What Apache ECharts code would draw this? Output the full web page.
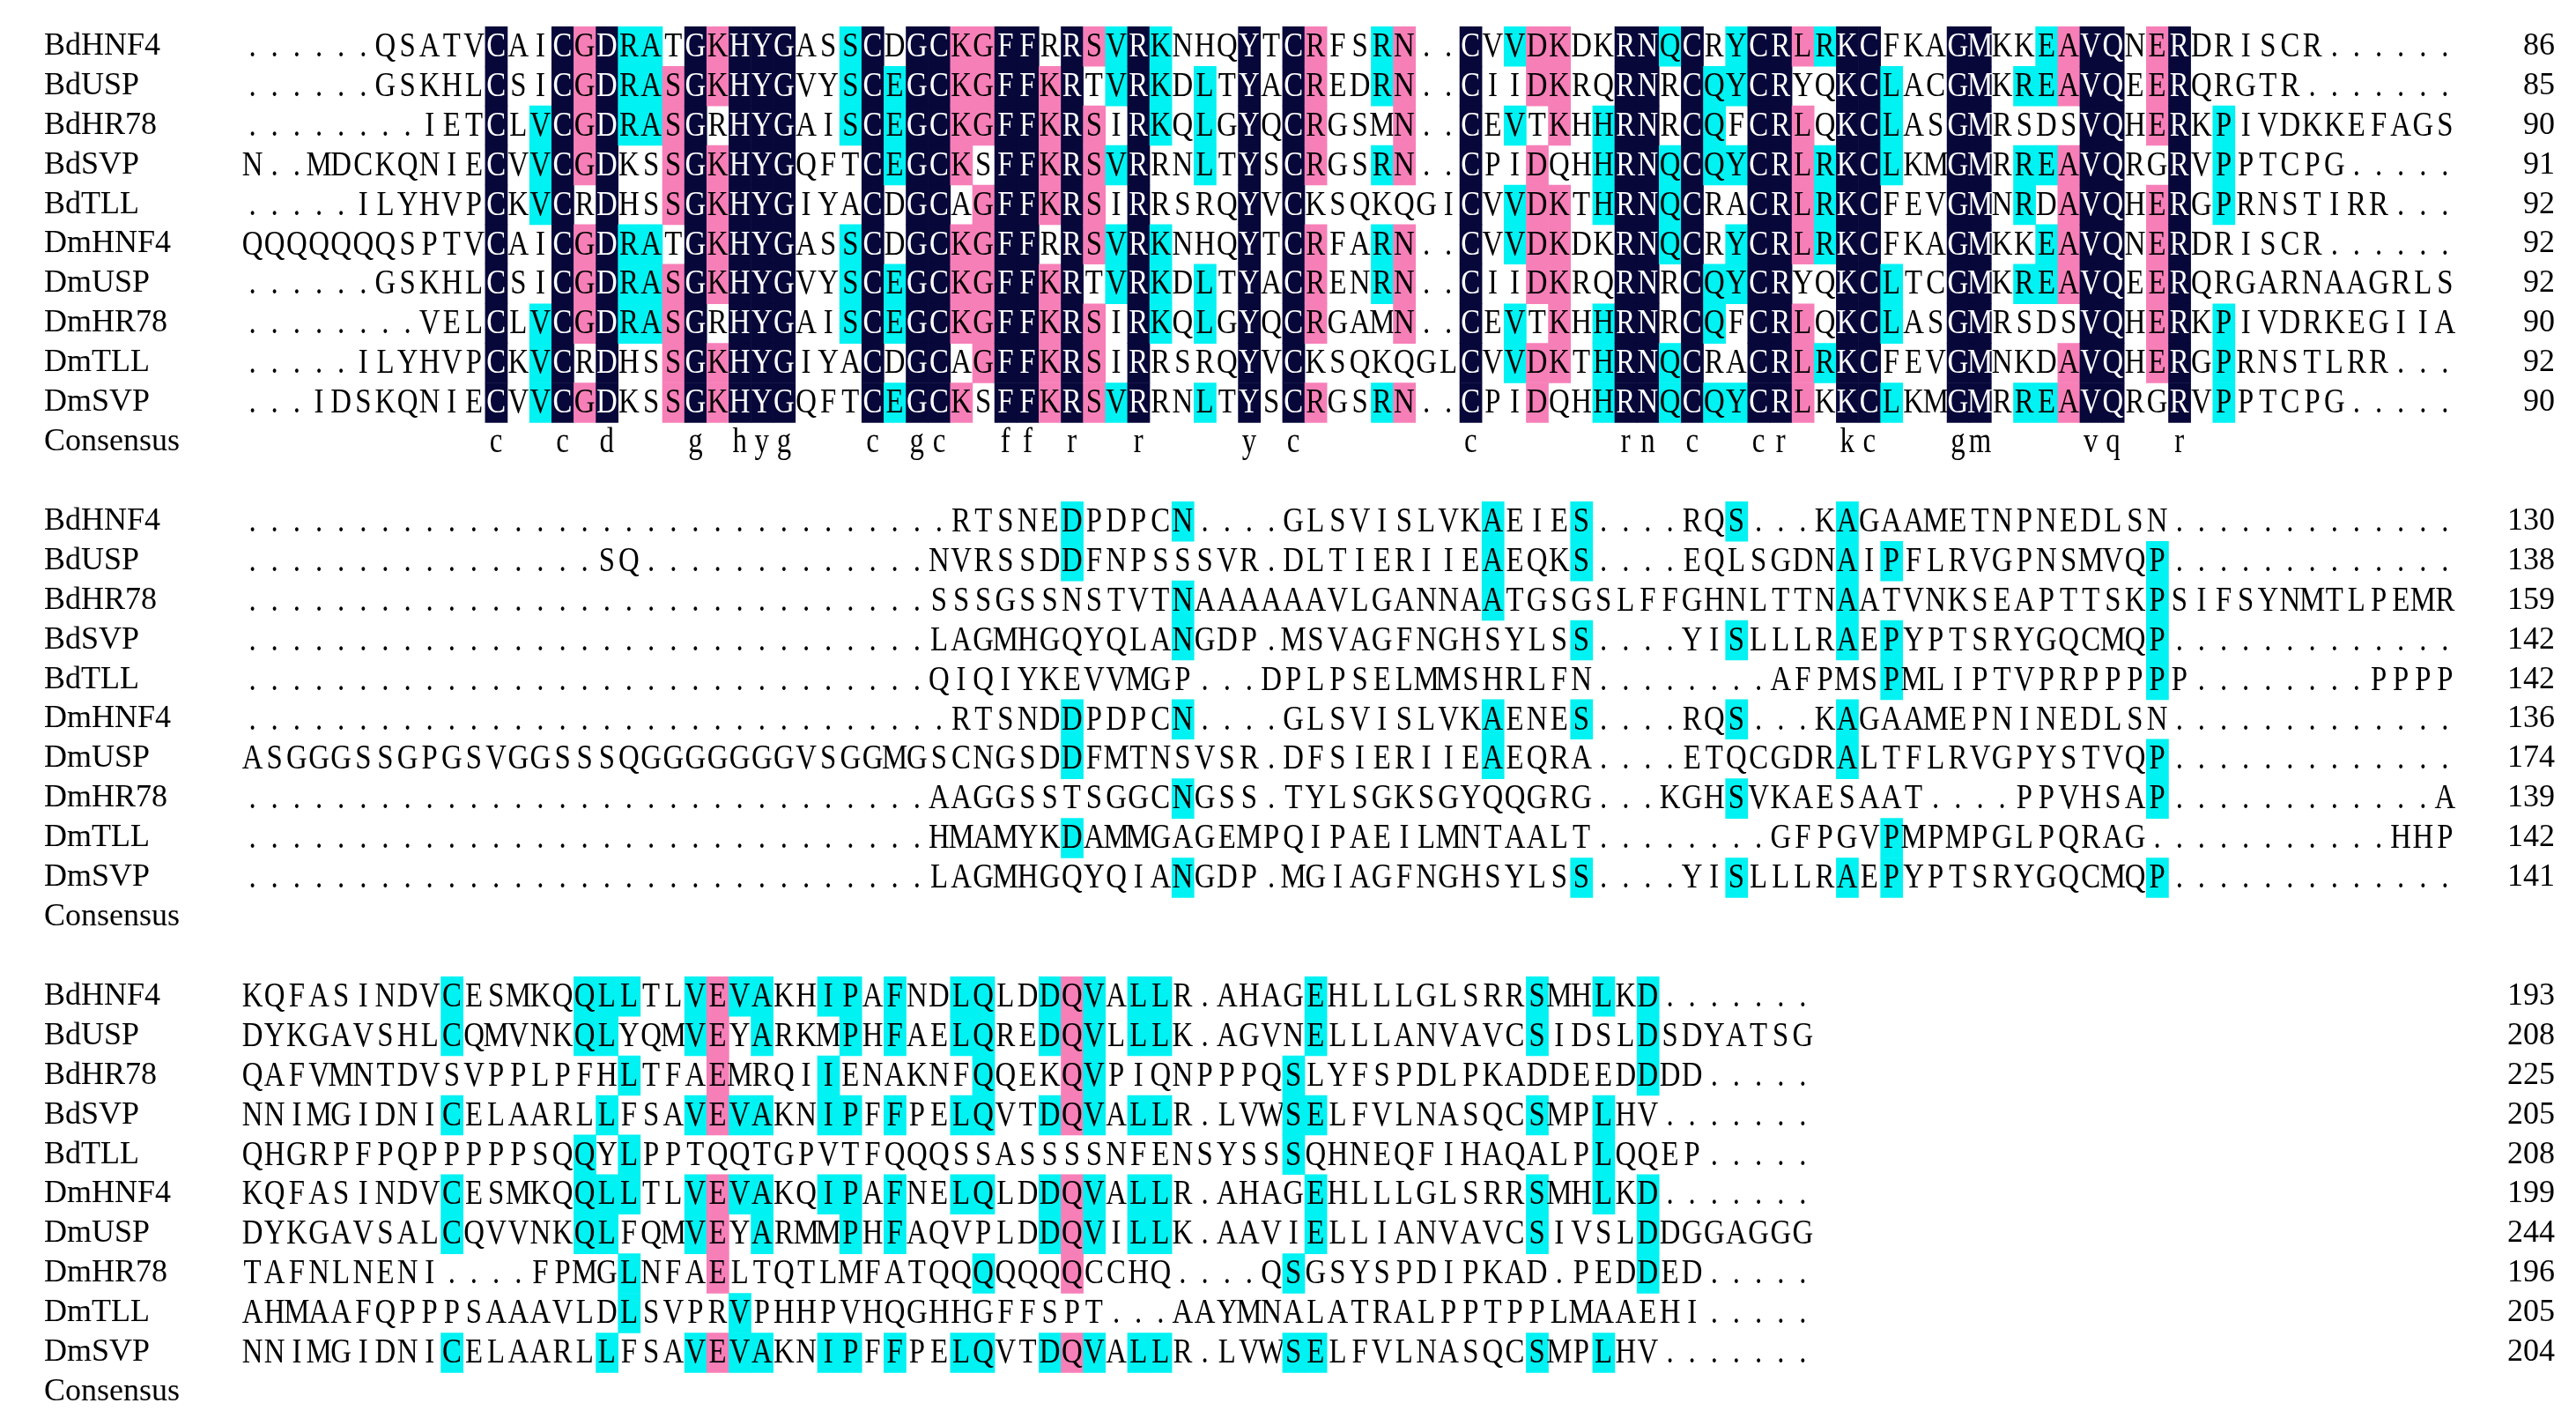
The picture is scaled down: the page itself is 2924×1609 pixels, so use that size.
<!DOCTYPE html>
<html><head><meta charset="utf-8">
<script src="https://cdn.jsdelivr.net/npm/echarts@6/dist/echarts.min.js"></script>
<style>html,body{margin:0;padding:0;background:#fff}#c{width:2924px;height:1609px}</style>
</head><body><div id="c"></div>
<script>
const names = ["BdHNF4","BdUSP","BdHR78","BdSVP","BdTLL","DmHNF4","DmUSP","DmHR78","DmTLL","DmSVP"];
const D = n => ".".repeat(n);
const block1 = [
"......QSATVCAICGDRATGKHYGASSCDGCKGFFRRSVRKNHQYTCRFSRN..CVVDKDKRNQCRYCRLRKCFKAGMKKEAVQNERDRISCR......",
"......GSKHLCSICGDRASGKHYGVYSCEGCKGFFKRTVRKDLTYACREDRN..CIIDKRQRNRCQYCRYQKCLACGMKREAVQEERQRGTR.......",
"........IETCLVCGDRASGRHYGAISCEGCKGFFKRSIRKQLGYQCRGSMN..CEVTKHHRNRCQFCRLQKCLASGMRSDSVQHERKPIVDKKEFAGS",
"N..MDCKQNIECVVCGDKSSGKHYGQFTCEGCKSFFKRSVRRNLTYSCRGSRN..CPIDQHHRNQCQYCRLRKCLKMGMRREAVQRGRVPPTCPG.....",
".....ILYHVPCKVCRDHSSGKHYGIYACDGCAGFFKRSIRRSRQYVCKSQKQGICVVDKTHRNQCRACRLRKCFEVGMNRDAVQHERGPRNSTIRR...",
"QQQQQQQSPTVCAICGDRATGKHYGASSCDGCKGFFRRSVRKNHQYTCRFARN..CVVDKDKRNQCRYCRLRKCFKAGMKKEAVQNERDRISCR......",
"......GSKHLCSICGDRASGKHYGVYSCEGCKGFFKRTVRKDLTYACRENRN..CIIDKRQRNRCQYCRYQKCLTCGMKREAVQEERQRGARNAAGRLS",
"........VELCLVCGDRASGRHYGAISCEGCKGFFKRSIRKQLGYQCRGAMN..CEVTKHHRNRCQFCRLQKCLASGMRSDSVQHERKPIVDRKEGIIA",
".....ILYHVPCKVCRDHSSGKHYGIYACDGCAGFFKRSIRRSRQYVCKSQKQGLCVVDKTHRNQCRACRLRKCFEVGMNKDAVQHERGPRNSTLRR...",
"...IDSKQNIECVVCGDKSSGKHYGQFTCEGCKSFFKRSVRRNLTYSCRGSRN..CPIDQHHRNQCQYCRLKKCLKMGMRREAVQRGRVPPTCPG....."
];
const block2 = [
D(32)+"RTSNEDPDPCN....GLSVISLVKAEIES....RQS...KAGAAMETNPNEDLSN",
D(16)+"SQ"+D(13)+"NVRSSDDFNPSSSVR.DLTIERIIEAEQKS....EQLSGDNAIPFLRVGPNSMVQP",
D(31)+"SSSGSSNSTVTNAAAAAAVLGANNAATGSGSLFFGHNLTTNAATVNKSEAPTTSKPSIFSYNMTLPEMR",
D(31)+"LAGMHGQYQLANGDP.MSVAGFNGHSYLSS....YISLLLRAEPYPTSRYGQCMQP",
D(31)+"QIQIYKEVVMGP...DPLPSELMMSHRLFN........AFPMSPMLIPTVPRPPPPP........PPPP",
D(32)+"RTSNDDPDPCN....GLSVISLVKAENES....RQS...KAGAAMEPNINEDLSN",
"ASGGGSSGPGSVGGSSSQGGGGGGGVSGGMGSCNGSDDFMTNSVSR.DFSIERIIEAEQRA....ETQCGDRALTFLRVGPYSTVQP",
D(31)+"AAGGSSTSGGCNGSS.TYLSGKSGYQQGRG...KGHSVKAESAAT....PPVHSAP............A",
D(31)+"HMAMYKDAMMGAGEMPQIPAEILMNTAALT........GFPGVPMPMPGLPQRAG...........HHP",
D(31)+"LAGMHGQYQIANGDP.MGIAGFNGHSYLSS....YISLLLRAEPYPTSRYGQCMQP"
];
const block3 = [
"KQFASINDVCESMKQQLLTLVEVAKHIPAFNDLQLDDQVALLR.AHAGEHLLLGLSRRSMHLKD",
"DYKGAVSHLCQMVNKQLYQMVEYARKMPHFAELQREDQVLLLK.AGVNELLLANVAVCSIDSLDSDYATSG",
"QAFVMNTDVSVPPLPFHLTFAEMRQIIENAKNFQQEKQVPIQNPPPQSLYFSPDLPKADDEEDDDD",
"NNIMGIDNICELAARLLFSAVEVAKNIPFFPELQVTDQVALLR.LVWSELFVLNASQCSMPLHV",
"QHGRPFPQPPPPPSQQYLPPTQQTGPVTFQQQSSASSSSNFENSYSSSQHNEQFIHAQALPLQQEP",
"KQFASINDVCESMKQQLLTLVEVAKQIPAFNELQLDDQVALLR.AHAGEHLLLGLSRRSMHLKD",
"DYKGAVSALCQVVNKQLFQMVEYARMMPHFAQVPLDDQVILLK.AAVIELLIANVAVCSIVSLDDGGAGGG",
"TAFNLNENI....FPMGLNFAELTQTLMFATQQQQQQQCCHQ....QSGSYSPDIPKAD.PEDDED",
"AHMAAFQPPPSAAAVLDLSVPRVPHHPVHQGHHGFFSPT...AAYMNALATRALPPTPPLMAAEHI",
"NNIMGIDNICELAARLLFSAVEVAKNIPFFPELQVTDQVALLR.LVWSELFVLNASQCSMPLHV"
];
const ends1 = [86,85,90,91,92,92,92,90,92,90];
const ends2 = [130,138,159,142,142,136,174,139,142,141];
const ends3 = [193,208,225,205,208,199,244,196,205,204];
const blockWidths = [100,100,71];

const blocks = [block1, block2, block3];
const ends = [ends1, ends2, ends3];
const NCOL = 100, NROW = 35;
const leftLabels = new Array(NROW).fill(""), rightLabels = new Array(NROW).fill("");
const cells = [];
const COLORS = {navy:"#07073a", pink:"#f77fb8", cyan:"#00f2f2"};
blocks.forEach((blk, b) => {
  const w = blockWidths[b];
  const seqs = blk.map(s => (s + ".".repeat(w)).slice(0, w));
  const base = b * 12;
  seqs.forEach((s, r) => { leftLabels[base + r] = names[r]; rightLabels[base + r] = String(ends[b][r]); });
  leftLabels[base + 10] = "Consensus";
  for (let c = 0; c < w; c++) {
    const cnt = {};
    seqs.forEach(s => { const ch = s[c]; if (ch !== ".") cnt[ch] = (cnt[ch] || 0) + 1; });
    let best = null, bn = 0;
    for (const k in cnt) if (cnt[k] > bn) { bn = cnt[k]; best = k; }
    let level = null;
    if (bn === 10) level = "navy"; else if (bn >= 8) level = "pink"; else if (bn >= 5) level = "cyan";
    seqs.forEach((s, r) => {
      const ch = s[c];
      cells.push({value:[c, base + r], ch: ch, bg: (level && ch === best) ? level : null});
    });
    if (bn === 10) cells.push({value:[c, base + 10], ch: best.toLowerCase(), bg: null});
  }
});

const chart = echarts.init(document.getElementById("c"));
chart.setOption({
  animation: false,
  backgroundColor: "#fff",
  grid: {left: 274, right: 136, top: 30, bottom: 7},
  xAxis: {type: "category", data: Array.from({length: NCOL}, (_, i) => String(i)), show: false},
  yAxis: [
    {type: "category", inverse: true, data: Array.from({length: NROW}, (_, i) => String(i)),
     axisLine: {show: false}, axisTick: {show: false}, splitLine: {show: false},
     axisLabel: {interval: 0, margin: 224, align: "left", fontFamily: "Liberation Serif", fontSize: 36, color: "#000",
       formatter: (v) => leftLabels[+v]}},
    {type: "category", inverse: true, position: "right", data: Array.from({length: NROW}, (_, i) => String(i)),
     axisLine: {show: false}, axisTick: {show: false}, splitLine: {show: false},
     axisLabel: {interval: 0, margin: 112, align: "right", fontFamily: "Liberation Serif", fontSize: 36, color: "#000",
       formatter: (v) => rightLabels[+v]}}
  ],
  series: [{
    type: "custom",
    coordinateSystem: "cartesian2d",
    data: cells.map(d => d.value),
    renderItem: (params, api) => {
      const d = cells[params.dataIndex];
      const p = api.coord([api.value(0), api.value(1)]);
      const s = api.size([1, 1]);
      const children = [];
      if (d.bg) children.push({type: "rect", shape: {x: p[0] - s[0] / 2, y: p[1] - s[1] / 2, width: s[0] + 0.6, height: s[1] + 0.6},
        style: {fill: COLORS[d.bg]}});
      children.push({type: "text", x: p[0], y: p[1] + 1, scaleX: 0.82,
        style: {text: d.ch, align: "center", verticalAlign: "middle", textAlign: "center", textVerticalAlign: "middle",
          font: '40px "Liberation Serif"', fill: d.bg === "navy" ? "#fff" : "#000"}});
      return {type: "group", children};
    }
  }]
});
</script></body></html>
